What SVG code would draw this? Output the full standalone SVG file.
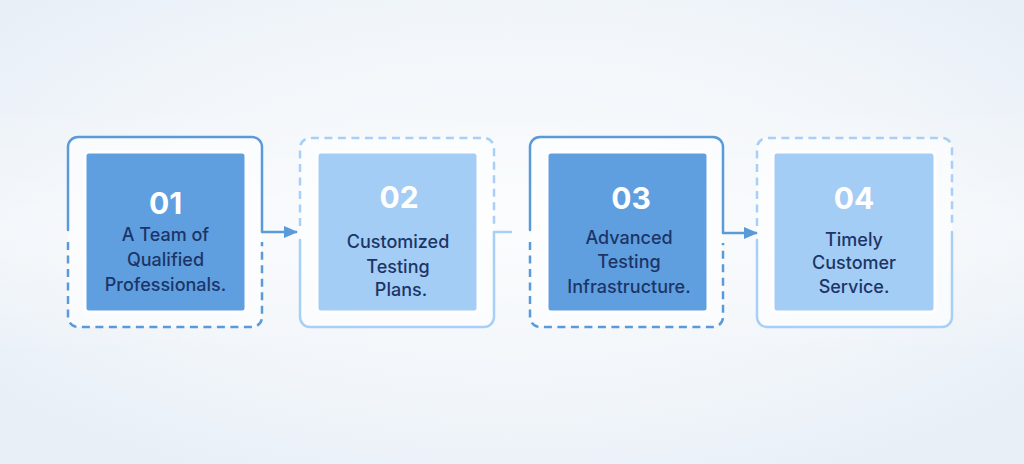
<svg xmlns="http://www.w3.org/2000/svg" width="1024" height="464" viewBox="0 0 1024 464">
<defs>
<radialGradient id="bg" cx="50%" cy="45%" r="65%">
<stop offset="0" stop-color="#f9fbfd"/>
<stop offset="0.6" stop-color="#f2f6fa"/>
<stop offset="1" stop-color="#e8eff7"/>
</radialGradient>
<linearGradient id="vfade" x1="0" y1="0" x2="0" y2="1">
<stop offset="0" stop-color="#ffffff" stop-opacity="0"/>
<stop offset="0.5" stop-color="#ffffff" stop-opacity="0.35"/>
<stop offset="1" stop-color="#ffffff" stop-opacity="0"/>
</linearGradient>
<marker id="ah" viewBox="0 0 14 12" refX="13" refY="6" markerWidth="14" markerHeight="12" markerUnits="userSpaceOnUse" orient="auto">
<path d="M0,0 L14,6 L0,12 Z" fill="#5b9ad9"/>
</marker>
<style>
.frame{fill:#ffffff;fill-opacity:0.55;stroke:none}
.sd{fill:none;stroke:#5b9ad9;stroke-width:2.5;stroke-linecap:round}
.dd{fill:none;stroke:#5b9ad9;stroke-width:2.5;stroke-dasharray:8 5.5}
.sl{fill:none;stroke:#a8cff5;stroke-width:2.5;stroke-linecap:round}
.dl{fill:none;stroke:#a8cff5;stroke-width:2.5;stroke-dasharray:8 5.5}
.inD{fill:#5f9fe0;stroke:#ffffff;stroke-width:3}
.inL{fill:#a4cdf6;stroke:#ffffff;stroke-width:3}
.num{font-family:Inter,"Liberation Sans",sans-serif;font-weight:700;font-size:30px;fill:#ffffff;text-anchor:middle}
.lbl{font-family:Inter,"Liberation Sans",sans-serif;font-weight:500;font-size:18px;fill:#1c3566;text-anchor:middle}
.arr{fill:none;stroke:#5b9ad9;stroke-width:2.5}
</style>
</defs>
<rect width="1024" height="464" fill="url(#bg)"/>
<rect x="0" y="100" width="1024" height="260" fill="url(#vfade)"/>

<g id="node1">
<rect class="frame" x="68" y="137" width="194" height="190" rx="10"/>
<path class="sd" d="M68,230 V147 A10,10 0 0 1 78,137 H252 A10,10 0 0 1 262,147 V232"/>
<path class="dd" d="M68,242 V317 A10,10 0 0 0 78,327 H252 A10,10 0 0 0 262,317 V242"/>
<rect class="inD" x="85" y="152" width="161" height="160" rx="4"/>
<text class="num" x="165.5" y="214">01</text>
<text class="lbl" x="165.5" y="241">A Team of</text>
<text class="lbl" x="165.5" y="266">Qualified</text>
<text class="lbl" x="165.5" y="291">Professionals.</text>
</g>

<g id="node2">
<rect class="frame" x="300" y="138" width="194" height="189" rx="10"/>
<path class="dl" d="M300,226 V148 A10,10 0 0 1 310,138 H484 A10,10 0 0 1 494,148 V226"/>
<path class="sl" d="M300,240 V317 A10,10 0 0 0 310,327 H484 A10,10 0 0 0 494,317 V232"/>
<rect class="inL" x="317" y="152" width="161" height="160" rx="4"/>
<text class="num" x="399" y="208">02</text>
<text class="lbl" x="398" y="248">Customized</text>
<text class="lbl" x="398" y="273">Testing</text>
<text class="lbl" x="401" y="296">Plans.</text>
</g>

<g id="node3">
<rect class="frame" x="530" y="137" width="193" height="190" rx="10"/>
<path class="sd" d="M530,230 V147 A10,10 0 0 1 540,137 H713 A10,10 0 0 1 723,147 V233"/>
<path class="dd" d="M530,242 V317 A10,10 0 0 0 540,327 H713 A10,10 0 0 0 723,317 V243"/>
<rect class="inD" x="547" y="152" width="161" height="160" rx="4"/>
<text class="num" x="631" y="209">03</text>
<text class="lbl" x="629" y="244">Advanced</text>
<text class="lbl" x="629" y="268">Testing</text>
<text class="lbl" x="629" y="293">Infrastructure.</text>
</g>

<g id="node4">
<rect class="frame" x="757" y="138" width="195" height="189" rx="10"/>
<path class="dl" d="M757,226 V148 A10,10 0 0 1 767,138 H942 A10,10 0 0 1 952,148 V226"/>
<path class="sl" d="M757,240 V317 A10,10 0 0 0 767,327 H942 A10,10 0 0 0 952,317 V232"/>
<rect class="inL" x="773" y="152" width="162" height="160" rx="4"/>
<text class="num" x="854" y="209">04</text>
<text class="lbl" x="854" y="246">Timely</text>
<text class="lbl" x="854" y="269">Customer</text>
<text class="lbl" x="854" y="293">Service.</text>
</g>

<g id="connectors">
<path class="arr" d="M262,232 H297" marker-end="url(#ah)"/>
<path class="sl" d="M494,232 H511"/>
<path class="arr" d="M723,233 H757" marker-end="url(#ah)"/>
</g>
</svg>
